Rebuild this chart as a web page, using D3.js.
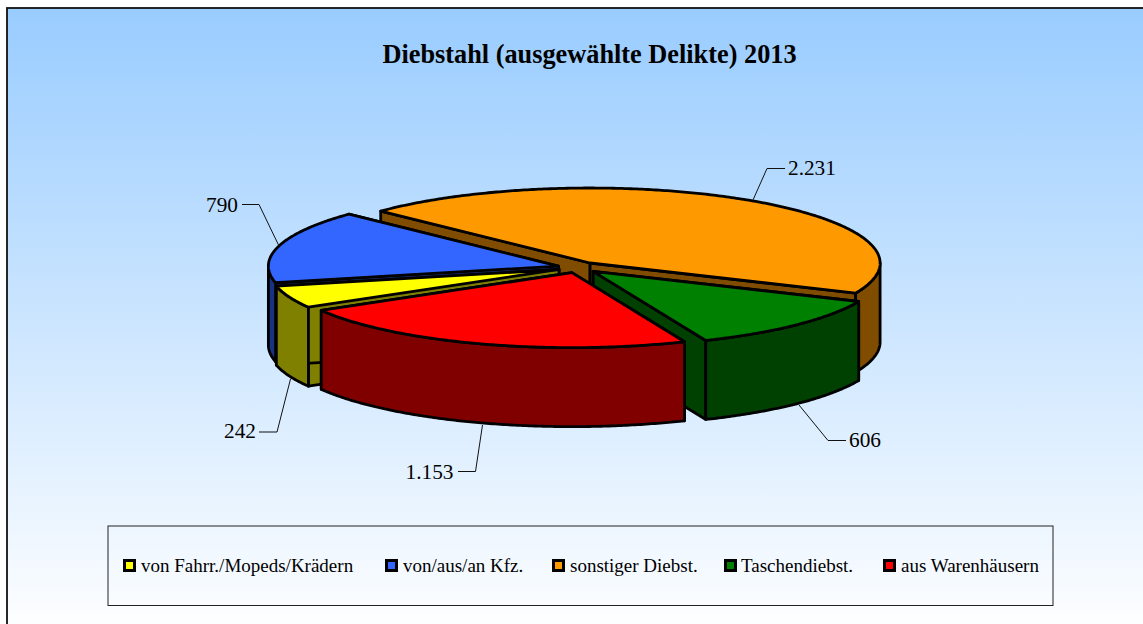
<!DOCTYPE html>
<html><head><meta charset="utf-8">
<script src="https://cdnjs.cloudflare.com/ajax/libs/d3/7.8.5/d3.min.js"></script>
<style>html,body{margin:0;padding:0;background:#fff}svg{display:block}text{font-family:"Liberation Serif","Times New Roman",serif;fill:#000}</style>
</head><body><div id="c"></div>
<script>
const categories=["von Fahrr./Mopeds/Krädern","von/aus/an Kfz.","sonstiger Diebst.","Taschendiebst.","aus Warenhäusern"];
const values=[242,790,2231,606,1153];
const valueLabels=["242","790","2.231","606","1.153"];
const topColors=["#ffff00","#3366ff","#ff9900","#008000","#ff0000"];
const sideColors=["#808000","#1a3380","#804c00","#004000","#800000"];
const drawOrder=[2,1,0,3,4];
const legendX=[123,385,552,724,883];
const labelAnchors=[[256,438,"end"],[238,211.5,"end"],[788,174.5,"start"],[849,446.5,"start"],[453.5,478.5,"end"]];
const leaderEnds=[[[290.5,379],[277,432],[259,432]],[[279,246],[259,204.5],[242,204.5]],[[753,200],[767,168.5],[785,168.5]],[[799,405],[828,440.5],[846,440.5]],[[482.5,425],[475.5,471.5],[458,471.5]]];
const W=1143,H=624,cx=578.5,cy=267.5,rx=290,ry=75,depth=79,explode=0.072;
const svg=d3.select("#c").append("svg").attr("width",W).attr("height",H);
const g=svg.append("defs").append("linearGradient").attr("id","bg").attr("x1",0).attr("y1",0).attr("x2",0).attr("y2",1);
g.append("stop").attr("offset",0).attr("stop-color","#99ccff");
g.append("stop").attr("offset",1).attr("stop-color","#ffffff");
svg.append("rect").attr("x",7).attr("y",8).attr("width",1150).attr("height",630).attr("fill","url(#bg)").attr("stroke","#111").attr("stroke-width",1.8);
svg.append("text").attr("x",589.5).attr("y",63).attr("text-anchor","middle").attr("font-size",26.3).attr("font-weight","bold").text("Diebstahl (ausgewählte Delikte) 2013");
const pie=d3.pie().sort(null).startAngle(239.8*Math.PI/180).endAngle((239.8+360)*Math.PI/180);
const arcs=pie(values);
const rad=a=>a-Math.PI/2;
function sliceGeom(d){
  const a0=rad(d.startAngle),a1=rad(d.endAngle),m=(a0+a1)/2;
  const ox=cx+explode*rx*Math.cos(m),oy=cy+explode*ry*Math.sin(m);
  const pt=(t,dz=0)=>[ox+rx*Math.cos(t),oy+ry*Math.sin(t)+dz];
  const ang=(s,e,dz)=>{const n=Math.max(2,Math.ceil(Math.abs(e-s)/0.01));return d3.range(n+1).map(i=>pt(s+(e-s)*i/n,dz));};
  return {a0,a1,ox,oy,pt,ang};
}
const line=d3.line().curve(d3.curveLinear);
const style=(s,f,w)=>s.attr("fill",f).attr("stroke","#000").attr("stroke-width",w).attr("stroke-linejoin","round");
drawOrder.forEach(i=>{
  const G=sliceGeom(arcs[i]),gg=svg.append("g");
  const apex=[G.ox,G.oy],apexB=[G.ox,G.oy+depth];
  [G.a0,G.a1].forEach(t=>{
    style(gg.append("path").attr("d",line([apex,G.pt(t),G.pt(t,depth),apexB])+"Z"),sideColors[i],2.8);
  });
  const tau=2*Math.PI;
  for(let k=-1;k<=1;k++){
    const s=Math.max(G.a0,k*tau),e=Math.min(G.a1,k*tau+Math.PI);
    if(e>s){
      const top=G.ang(s,e,0),bot=G.ang(e,s,depth);
      style(gg.append("path").attr("d",line(top.concat(bot))+"Z"),sideColors[i],2.8);
    }
  }
  style(gg.append("path").attr("d",line([apex].concat(G.ang(G.a0,G.a1,0)))+"Z"),topColors[i],2.8);
});
values.forEach((v,i)=>{
  svg.append("path").attr("d",line(leaderEnds[i])).attr("fill","none").attr("stroke","#111").attr("stroke-width",1);
  const a=labelAnchors[i];
  svg.append("text").attr("x",a[0]).attr("y",a[1]).attr("text-anchor",a[2]).attr("font-size",21.3).text(valueLabels[i]);
});
svg.append("rect").attr("x",108).attr("y",526).attr("width",945).attr("height",79.5).attr("fill","none").attr("stroke","#222").attr("stroke-width",1);
categories.forEach((c,i)=>{
  svg.append("rect").attr("x",legendX[i]+1.5).attr("y",560.5).attr("width",10).attr("height",10).attr("fill",topColors[i]).attr("stroke","#000").attr("stroke-width",3);
  svg.append("text").attr("x",legendX[i]+(i===3?17:18)).attr("y",572).attr("font-size",19).text(c);
});
</script></body></html>
